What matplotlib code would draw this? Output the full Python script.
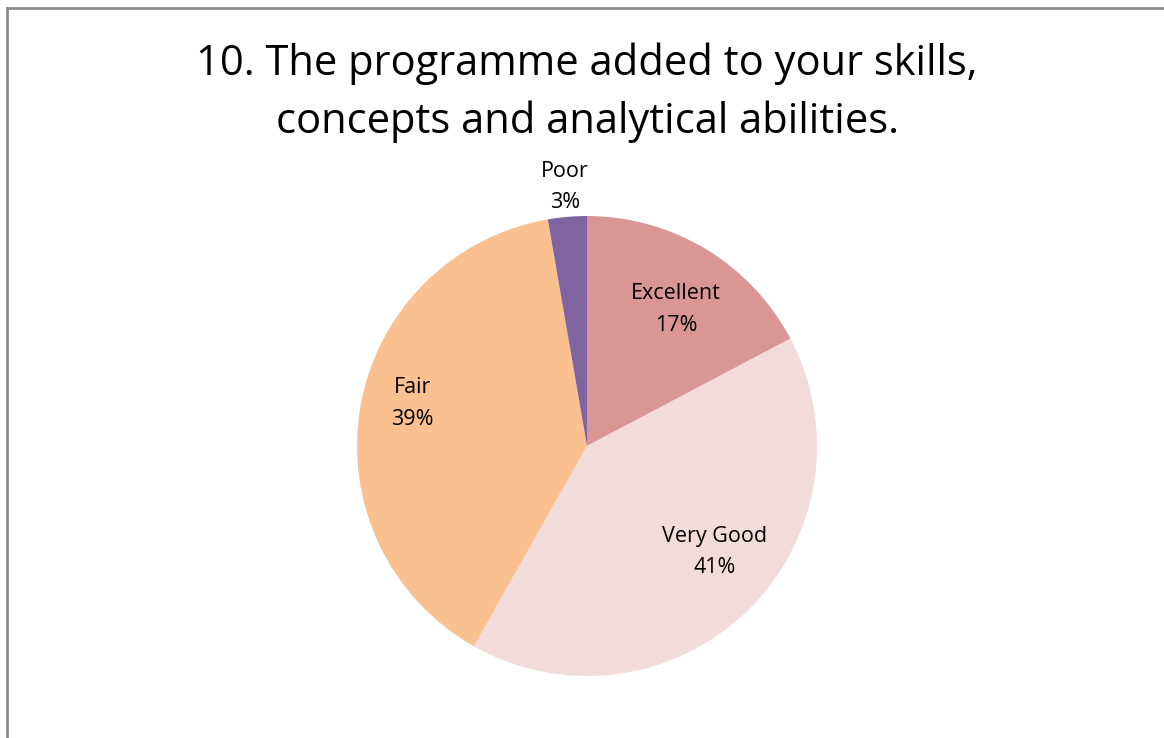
import numpy as np
import matplotlib.pyplot as plt
from matplotlib.lines import Line2D

# Data
categories = ["Excellent", "Very Good", "Fair", "Poor"]
responses = [19, 45, 43, 3]
colors = ["#D99694", "#F2DCDB", "#FAC090", "#8064A2"]
label_dist = [0.71, 0.72, 0.78, 1.13]
label_shift = [-2, 6, -4, 0]   # degrees, nudges like Excel's best-fit placement

title = "10. The programme added to your skills,\nconcepts and analytical abilities."

plt.rcParams['font.family'] = ['Open Sans', 'DejaVu Sans']

W, H = 1164, 738
fig = plt.figure(figsize=(W / 100, H / 100), dpi=100)
fig.patch.set_facecolor("white")

# chart border (only top and left visible in the crop)
fig.add_artist(Line2D([7 / W, 1.0], [1 - 8 / H, 1 - 8 / H], color="#8c8c8c", lw=2))
fig.add_artist(Line2D([7 / W, 7 / W], [0.0, 1 - 8 / H], color="#8c8c8c", lw=2))

fig.text(587 / W, 1 - 93 / H, title, ha="center", va="center",
         fontsize=30, linespacing=1.47, color="black")

cx, cy, r = 587, 446, 230
ax = fig.add_axes([(cx - r) / W, (H - cy - r) / H, 2 * r / W, 2 * r / H])
wedges, _ = ax.pie(responses, colors=colors, startangle=90, counterclock=False,
                   radius=1.0, wedgeprops=dict(linewidth=0))
ax.set_xlim(-1, 1)
ax.set_ylim(-1, 1)
ax.set_aspect("auto")
ax.axis("off")

total = sum(responses)
for w, name, val, d, s in zip(wedges, categories, responses, label_dist, label_shift):
    ang = np.deg2rad((w.theta1 + w.theta2) / 2 + s)
    x, y = d * np.cos(ang), d * np.sin(ang)
    ax.text(x, y, f"{name}\n{val / total * 100:.0f}%", ha="center", va="center",
            fontsize=15.5, linespacing=1.68, color="black")

fig.savefig("out.png", dpi=100)
